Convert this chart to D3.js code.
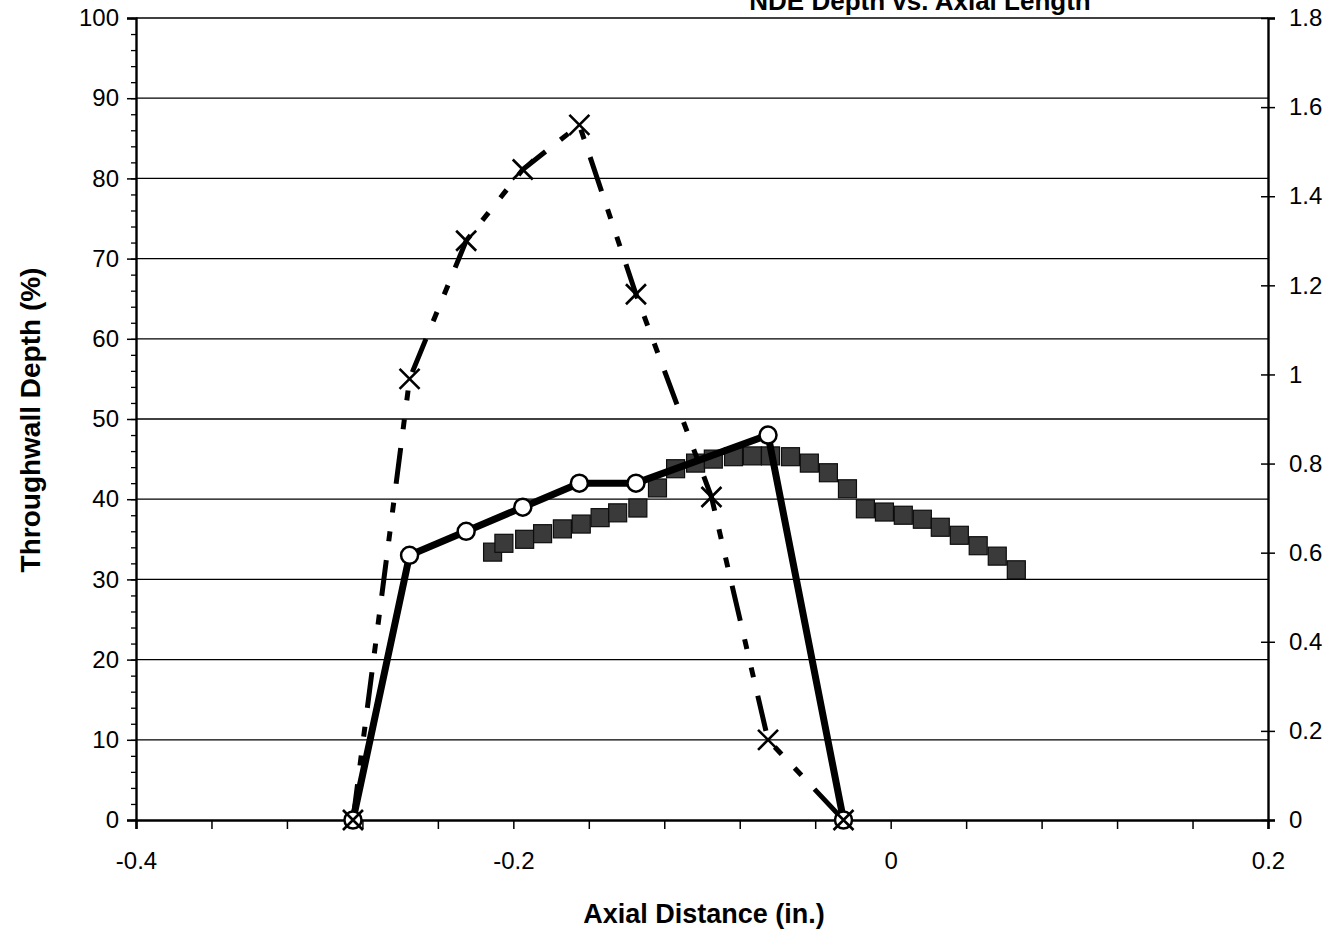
<!DOCTYPE html>
<html>
<head>
<meta charset="utf-8">
<script src="https://cdn.jsdelivr.net/npm/d3@7"></script>
<style>
  html, body { margin: 0; padding: 0; background: #fff; }
  svg { display: block; }
  text { font-family: "Liberation Sans", Arial, Helvetica, sans-serif; fill: #000; }
</style>
</head>
<body>
<svg id="chart" width="1335" height="931"></svg>
<script>
// Axial position (in.) of each measurement
const bobbinX = [-0.285, -0.255, -0.225, -0.195, -0.165, -0.135, -0.065, -0.025];
// Throughwall depth (%) from bobbin-coil estimate (circles, left axis)
const bobbinDepth = [0, 33, 36, 39, 42, 42, 48, 0];

// Signal amplitude profile (crosses, right axis)
const ampX = [-0.285, -0.255, -0.225, -0.195, -0.165, -0.135, -0.095, -0.065, -0.025];
const ampValue = [0, 0.99, 1.30, 1.46, 1.56, 1.18, 0.725, 0.18, 0];

// Rotating-probe depth profile (squares, left axis)
const profileX = [-0.211, -0.205, -0.194, -0.1845, -0.174, -0.164, -0.154, -0.1447, -0.134,
  -0.1236, -0.114, -0.1034, -0.094, -0.0833, -0.0733, -0.0637, -0.0531, -0.0431, -0.033,
  -0.0229, -0.0134, -0.0033, 0.0067, 0.0168, 0.0263, 0.0364, 0.0464, 0.0565, 0.0666];
const profileDepth = [33.4, 34.5, 35.0, 35.7, 36.3, 36.9, 37.7, 38.3, 38.9,
  41.4, 43.8, 44.5, 45.0, 45.3, 45.4, 45.4, 45.3, 44.5, 43.3,
  41.3, 38.8, 38.4, 38.0, 37.5, 36.5, 35.5, 34.2, 32.9, 31.2];

// Tick values and labels
const xTicks = [-0.4, -0.2, 0, 0.2];
const xTickLabels = ["-0.4", "-0.2", "0", "0.2"];
const leftTicks = [0, 10, 20, 30, 40, 50, 60, 70, 80, 90, 100];
const rightTicks = [0, 0.2, 0.4, 0.6, 0.8, 1, 1.2, 1.4, 1.6, 1.8];
const rightTickLabels = ["0", "0.2", "0.4", "0.6", "0.8", "1", "1.2", "1.4", "1.6", "1.8"];

const titleText = "NDE Depth vs. Axial Length";
const xTitle = "Axial Distance (in.)";
const yTitle = "Throughwall Depth (%)";

const svg = d3.select("#chart");
const plot = { left: 136, right: 1268, top: 18, bottom: 820 };

const x = d3.scaleLinear().domain([-0.4, 0.2]).range([plot.left, plot.right]);
const yL = d3.scaleLinear().domain([0, 100]).range([plot.bottom, plot.top]);
const yR = d3.scaleLinear().domain([0, 1.8]).range([plot.bottom, plot.top]);

const tickFont = 24;

// Horizontal gridlines
svg.append("g")
  .selectAll("line")
  .data(leftTicks.filter(d => d > 0))
  .join("line")
  .attr("x1", plot.left).attr("x2", plot.right)
  .attr("y1", d => yL(d)).attr("y2", d => yL(d))
  .attr("stroke", "#000").attr("stroke-width", 1.3);

// Left axis: minor ticks every 2, major every 10
const leftMinor = svg.append("g").attr("transform", `translate(${plot.left},0)`)
  .call(d3.axisLeft(yL).tickValues(d3.range(0, 101, 2)).tickSize(5).tickFormat(""));
leftMinor.select(".domain").remove();
leftMinor.selectAll(".tick line").attr("stroke-width", 1.3);

const leftAxis = svg.append("g").attr("transform", `translate(${plot.left},0)`)
  .call(d3.axisLeft(yL).tickValues(leftTicks).tickSize(9).tickPadding(8).tickFormat(d3.format("d")));
leftAxis.select(".domain").attr("stroke-width", 2.4);
leftAxis.selectAll(".tick line").attr("stroke-width", 1.5);
leftAxis.selectAll(".tick text").attr("font-size", tickFont).style("font-family", "Liberation Sans, Arial, sans-serif");

// Right axis: ticks crossing the axis line
const rightAxis = svg.append("g").attr("transform", `translate(${plot.right},0)`)
  .call(d3.axisRight(yR).tickValues(rightTicks).tickSize(7).tickPadding(14)
    .tickFormat((d, i) => rightTickLabels[i]));
rightAxis.select(".domain").attr("stroke-width", 2.4);
rightAxis.selectAll(".tick line").attr("x1", -7).attr("stroke-width", 1.5);
rightAxis.selectAll(".tick text").attr("font-size", tickFont).style("font-family", "Liberation Sans, Arial, sans-serif");

// Bottom axis: ticks every 0.04, labels every 0.2
const bottomMinor = svg.append("g").attr("transform", `translate(0,${plot.bottom})`)
  .call(d3.axisBottom(x).tickValues(d3.range(0, 16).map(i => -0.4 + i * 0.04)).tickSize(9).tickFormat(""));
bottomMinor.select(".domain").attr("stroke-width", 2.6);
bottomMinor.selectAll(".tick line").attr("stroke-width", 1.5);

const bottomAxis = svg.append("g").attr("transform", `translate(0,${plot.bottom})`)
  .call(d3.axisBottom(x).tickValues(xTicks).tickSize(0).tickPadding(32)
    .tickFormat((d, i) => xTickLabels[i]));
bottomAxis.select(".domain").remove();
bottomAxis.selectAll(".tick text").attr("font-size", tickFont).style("font-family", "Liberation Sans, Arial, sans-serif");

// Profile squares
svg.append("g")
  .selectAll("rect")
  .data(profileX.map((d, i) => [d, profileDepth[i]]))
  .join("rect")
  .attr("x", d => x(d[0]) - 9).attr("y", d => yL(d[1]) - 9)
  .attr("width", 18).attr("height", 18)
  .attr("fill", "#3a3a3a").attr("stroke", "#0d0d0d").attr("stroke-width", 1.2);

// Bobbin depth: thick solid line with open circles
const bobbinPts = bobbinX.map((d, i) => [d, bobbinDepth[i]]);
svg.append("path")
  .datum(bobbinPts)
  .attr("d", d3.line().x(d => x(d[0])).y(d => yL(d[1])))
  .attr("fill", "none").attr("stroke", "#000").attr("stroke-width", 7)
  .attr("stroke-linejoin", "round");

// Amplitude: dashed line with crosses
const ampPts = ampX.map((d, i) => [d, ampValue[i]]);
svg.append("path")
  .datum(ampPts)
  .attr("d", d3.line().x(d => x(d[0])).y(d => yR(d[1])))
  .attr("fill", "none").attr("stroke", "#000").attr("stroke-width", 5)
  .attr("stroke-dasharray", "36,19,10,19,10,19");

svg.append("g")
  .selectAll("circle")
  .data(bobbinPts)
  .join("circle")
  .attr("cx", d => x(d[0])).attr("cy", d => yL(d[1]))
  .attr("r", 8.5).attr("fill", "#fff").attr("stroke", "#000").attr("stroke-width", 2.5);

const crossSize = 10;
svg.append("g")
  .selectAll("path")
  .data(ampPts)
  .join("path")
  .attr("transform", d => `translate(${x(d[0])},${yR(d[1])})`)
  .attr("d", `M${-crossSize},${-crossSize}L${crossSize},${crossSize}M${-crossSize},${crossSize}L${crossSize},${-crossSize}`)
  .attr("stroke", "#000").attr("stroke-width", 2.6).attr("fill", "none");

// Titles
svg.append("text")
  .attr("x", 920).attr("y", 10)
  .attr("text-anchor", "middle")
  .attr("font-size", 26).attr("font-weight", "bold")
  .text(titleText);

svg.append("text")
  .attr("x", 704).attr("y", 923)
  .attr("text-anchor", "middle")
  .attr("font-size", 27).attr("font-weight", "bold")
  .text(xTitle);

svg.append("text")
  .attr("transform", "translate(40,420) rotate(-90)")
  .attr("text-anchor", "middle")
  .attr("font-size", 28).attr("font-weight", "bold")
  .text(yTitle);
</script>
</body>
</html>
